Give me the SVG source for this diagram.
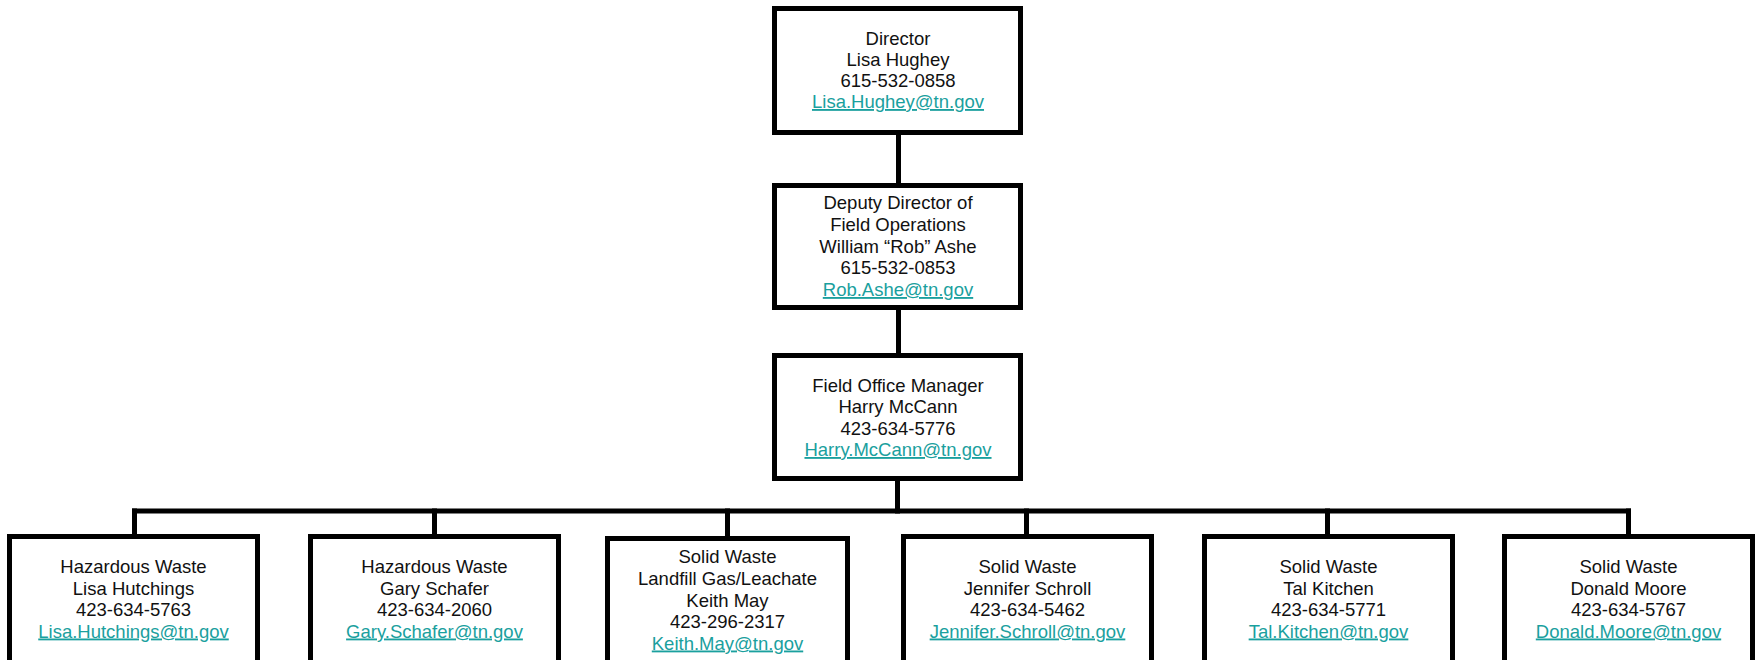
<svg xmlns="http://www.w3.org/2000/svg" width="1756" height="660" viewBox="0 0 1756 660">
<style>
.box{fill:#fff;stroke:#000;stroke-width:5;stroke-linejoin:miter}
.ln{fill:none;stroke:#000;stroke-width:5;stroke-linecap:square;stroke-linejoin:miter}
text{font-family:"Liberation Sans",Arial,sans-serif;font-size:18.5px;fill:#111;text-anchor:middle}
.em{fill:#1aa09e;text-decoration:underline}
</style>
<rect width="1756" height="660" fill="#fff"/>
<g id="connectors">
<path class="ln" d="M898.5 137 V181"/>
<path class="ln" d="M898.5 312 V351"/>
<path class="ln" d="M897.5 483 V511"/>
<path class="ln" d="M134.5 511 H1628.5"/>
<path class="ln" d="M134.5 511 V532"/>
<path class="ln" d="M434.5 511 V532"/>
<path class="ln" d="M727.5 511 V534"/>
<path class="ln" d="M1026.5 511 V532"/>
<path class="ln" d="M1327.5 511 V532"/>
<path class="ln" d="M1628.5 511 V532"/>
</g>
<g id="director">
<rect class="box" x="774.5" y="8.5" width="246" height="124"/>
<text x="898" y="45">Director</text>
<text x="898" y="66">Lisa Hughey</text>
<text x="898" y="87">615-532-0858</text>
<text x="898" y="108" class="em">Lisa.Hughey@tn.gov</text>
</g>
<g id="deputy">
<rect class="box" x="774.5" y="185.5" width="246" height="122"/>
<text x="898" y="209">Deputy Director of</text>
<text x="898" y="231">Field Operations</text>
<text x="898" y="252.5">William “Rob” Ashe</text>
<text x="898" y="274">615-532-0853</text>
<text x="898" y="296" class="em">Rob.Ashe@tn.gov</text>
</g>
<g id="manager">
<rect class="box" x="774.5" y="355.5" width="246" height="123"/>
<text x="898" y="392">Field Office Manager</text>
<text x="898" y="413">Harry McCann</text>
<text x="898" y="434.5">423-634-5776</text>
<text x="898" y="456" class="em">Harry.McCann@tn.gov</text>
</g>
<g id="hutchings">
<rect class="box" x="9.5" y="536.5" width="248" height="160"/>
<text x="133.5" y="573">Hazardous Waste</text>
<text x="133.5" y="594.5">Lisa Hutchings</text>
<text x="133.5" y="616">423-634-5763</text>
<text x="133.5" y="637.5" class="em">Lisa.Hutchings@tn.gov</text>
</g>
<g id="schafer">
<rect class="box" x="310.5" y="536.5" width="248" height="160"/>
<text x="434.5" y="573">Hazardous Waste</text>
<text x="434.5" y="594.5">Gary Schafer</text>
<text x="434.5" y="616">423-634-2060</text>
<text x="434.5" y="637.5" class="em">Gary.Schafer@tn.gov</text>
</g>
<g id="may">
<rect class="box" x="607.5" y="538.5" width="240" height="160"/>
<text x="727.5" y="563">Solid Waste</text>
<text x="727.5" y="585">Landfill Gas/Leachate</text>
<text x="727.5" y="606.5">Keith May</text>
<text x="727.5" y="628">423-296-2317</text>
<text x="727.5" y="649.5" class="em">Keith.May@tn.gov</text>
</g>
<g id="schroll">
<rect class="box" x="903.5" y="536.5" width="248" height="160"/>
<text x="1027.5" y="573">Solid Waste</text>
<text x="1027.5" y="594.5">Jennifer Schroll</text>
<text x="1027.5" y="616">423-634-5462</text>
<text x="1027.5" y="637.5" class="em">Jennifer.Schroll@tn.gov</text>
</g>
<g id="kitchen">
<rect class="box" x="1204.5" y="536.5" width="248" height="160"/>
<text x="1328.5" y="573">Solid Waste</text>
<text x="1328.5" y="594.5">Tal Kitchen</text>
<text x="1328.5" y="616">423-634-5771</text>
<text x="1328.5" y="637.5" class="em">Tal.Kitchen@tn.gov</text>
</g>
<g id="moore">
<rect class="box" x="1504.5" y="536.5" width="248" height="160"/>
<text x="1628.5" y="573">Solid Waste</text>
<text x="1628.5" y="594.5">Donald Moore</text>
<text x="1628.5" y="616">423-634-5767</text>
<text x="1628.5" y="637.5" class="em">Donald.Moore@tn.gov</text>
</g>
</svg>
